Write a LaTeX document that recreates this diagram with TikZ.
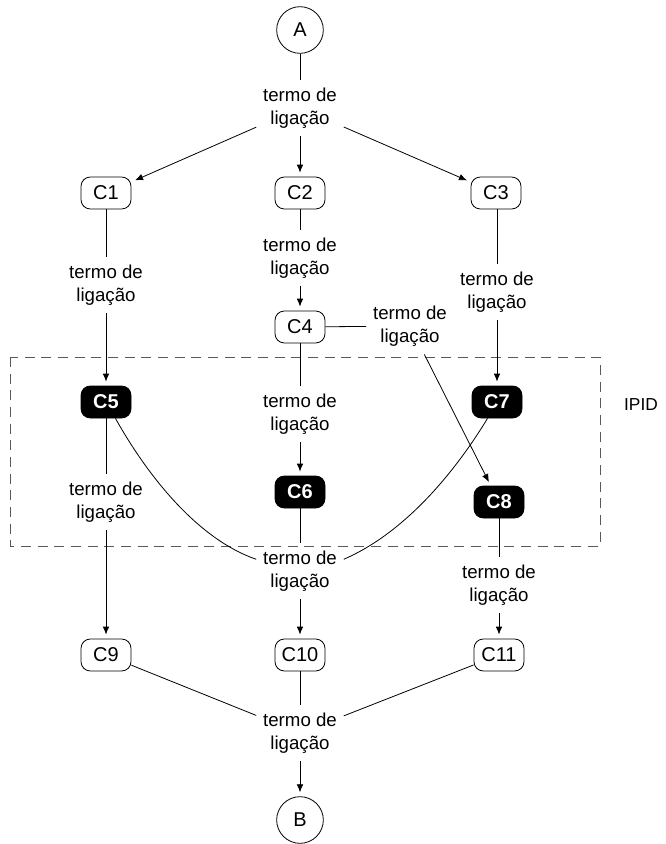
\documentclass[tikz,border=0pt]{standalone}
\usepackage{fontspec}
\setmainfont{Liberation Sans}
\usetikzlibrary{arrows.meta,calc}
\begin{document}
\begin{tikzpicture}[x=0.75pt,y=-0.75pt,
  cbox/.style={draw, rounded corners=7pt, minimum width=37.5pt, minimum height=24pt, inner sep=1pt, font=\fontsize{15}{18}\selectfont, line width=0.6pt},
  dbox/.style={cbox, fill=black, text=white, font=\fontsize{15}{18}\selectfont\bfseries},
  term/.style={align=center, font=\fontsize{14}{17}\selectfont, inner xsep=5pt, inner ysep=6pt},
  circ/.style={draw, circle, minimum size=35pt, inner sep=0pt, font=\fontsize{15}{18}\selectfont, line width=0.6pt},
  ln/.style={draw, line width=0.6pt},
  arr/.style={ln, -{Latex[length=6pt,width=5pt]}, shorten >=3pt},
  region/.style={draw=black!65, line width=0.6pt, dash pattern=on 7.5pt off 5pt},
]
\useasboundingbox (0,0) rectangle (666,844);
\draw[region] (10,357) rectangle (600,546);
\node[font=\fontsize{13}{16}\selectfont] (ipid) at (641,405) {IPID};

\node[circ] (A) at (300,30) {A};
\node[term] (t1) at (300,108) {termo de\\ligação};
\node[cbox] (C1) at (106,193) {C1};
\node[cbox] (C2) at (300,193) {C2};
\node[cbox] (C3) at (496,193) {C3};
\node[term] (t2) at (106,285) {termo de\\ligação};
\node[term] (t3) at (300,258) {termo de\\ligação};
\node[term] (t4) at (497,292) {termo de\\ligação};
\node[cbox] (C4) at (300,327) {C4};
\node[term] (t5) at (410,326) {termo de\\ligação};
\node[dbox] (C5) at (106,402) {C5};
\node[dbox] (C7) at (497,402) {C7};
\node[term] (t6) at (300,414) {termo de\\ligação};
\node[dbox] (C6) at (300,492) {C6};
\node[dbox] (C8) at (499,502) {C8};
\node[term] (t7) at (106,502) {termo de\\ligação};
\node[term] (t8) at (300,571) {termo de\\ligação};
\node[term] (t9) at (499,585) {termo de\\ligação};
\node[cbox] (C9) at (106,655) {C9};
\node[cbox] (C10) at (300,655) {C10};
\node[cbox] (C11) at (499,655) {C11};
\node[term] (t10) at (300,733) {termo de\\ligação};
\node[circ] (B) at (300,820) {B};

\draw[ln] (A) -- (t1);
\draw[arr] (t1) -- (C1);
\draw[arr] (t1) -- (C2);
\draw[arr] (t1) -- (C3);
\draw[ln] (C1) -- (t2);
\draw[arr] (t2) -- (C5);
\draw[ln] (C2) -- (t3);
\draw[arr] (t3) -- (C4);
\draw[ln] (C3.south -| t4) -- (t4);
\draw[arr] (t4) -- (C7);
\draw[ln] (C4) -- (t5);
\draw[arr] (t5) -- (C8);
\draw[ln] (C4) -- (t6);
\draw[arr] (t6) -- (C6);
\draw[ln] (C5) -- (t7);
\draw[arr] (t7) -- (C9);
\draw[ln] (C6) -- (t8);
\draw[ln] (C5.-60) .. controls (150,480) and (200,540) .. (t8.165);
\draw[ln] (C7.-120) .. controls (450,480) and (400,535) .. (t8.15);
\draw[arr] (t8) -- (C10);
\draw[ln] (C8) -- (t9);
\draw[arr] (t9) -- (C11);
\draw[ln] (C9) -- (t10);
\draw[ln] (C10) -- (t10);
\draw[ln] (C11) -- (t10);
\draw[arr] (t10) -- (B);
\end{tikzpicture}
\end{document}
